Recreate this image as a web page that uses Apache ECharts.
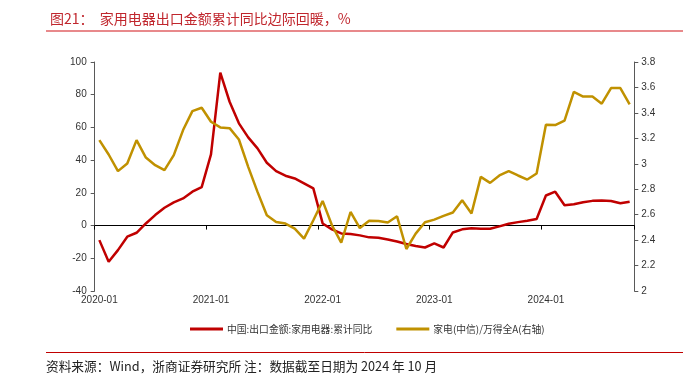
<!DOCTYPE html>
<html>
<head>
<meta charset="utf-8">
<script src="https://cdn.jsdelivr.net/npm/echarts@6/dist/echarts.min.js"></script>
<style>
  html, body { margin: 0; padding: 0; background: #fff; }
  #chart { width: 687px; height: 376px; }
</style>
</head>
<body>
<div id="chart"></div>
<script>
// months 2020-01 .. 2024-10
const months = [
  '2020-01','2020-02','2020-03','2020-04','2020-05','2020-06','2020-07','2020-08','2020-09','2020-10','2020-11','2020-12',
  '2021-01','2021-02','2021-03','2021-04','2021-05','2021-06','2021-07','2021-08','2021-09','2021-10','2021-11','2021-12',
  '2022-01','2022-02','2022-03','2022-04','2022-05','2022-06','2022-07','2022-08','2022-09','2022-10','2022-11','2022-12',
  '2023-01','2023-02','2023-03','2023-04','2023-05','2023-06','2023-07','2023-08','2023-09','2023-10','2023-11','2023-12',
  '2024-01','2024-02','2024-03','2024-04','2024-05','2024-06','2024-07','2024-08','2024-09','2024-10'
]

// 中国:出口金额:家用电器:累计同比 (%), left axis
const exportYoY = [
  -8.9, -22.1, -15.0, -6.8, -4.4, 1.3, 6.4, 10.9, 14.2, 16.6, 20.7, 23.5,
  43.5, 93.5, 75.7, 62.5, 53.9, 47.2, 38.4, 33.3, 30.5, 28.8, 25.8, 22.7,
  1.3, -2.3, -4.8, -5.2, -6.0, -7.2, -7.4, -8.5, -9.7, -11.3, -12.5, -13.4,
  -10.9, -13.4, -4.2, -2.3, -1.7, -1.9, -1.9, -0.5, 1.1, 2.1, 2.9, 4.0,
  18.4, 20.7, 12.4, 13.0, 14.3, 15.1, 15.4, 15.0, 13.6, 14.6
]

// 家电(中信)/万得全A (right axis)
const relRatio = [
  3.186, 3.073, 2.942, 3.002, 3.186, 3.049, 2.989, 2.950, 3.068, 3.265, 3.414, 3.440,
  3.330, 3.286, 3.280, 3.191, 2.976, 2.779, 2.595, 2.543, 2.530, 2.490, 2.412, 2.556,
  2.708, 2.517, 2.380, 2.621, 2.495, 2.553, 2.550, 2.538, 2.587, 2.330, 2.451, 2.540,
  2.561, 2.590, 2.617, 2.713, 2.609, 2.897, 2.850, 2.908, 2.942, 2.908, 2.876, 2.924,
  3.307, 3.304, 3.340, 3.565, 3.528, 3.528, 3.472, 3.595, 3.595, 3.467
]

const leftTicks = { min: -40, max: 100, step: 20 }
const rightTicks = { min: 2, max: 3.8, step: 0.2 }

const red = '#C00000'
const gold = '#C09100'
const axisGray = '#595959'
const labelFont = { fontFamily: 'Liberation Sans, Arial, sans-serif', fontSize: 10, color: '#333' }
const cjkFont = '"Noto Sans CJK SC", sans-serif'

const chart = echarts.init(document.getElementById('chart'))

chart.setOption({
  animation: false,
  backgroundColor: '#fff',
  title: {
    text: '图21：  家用电器出口金额累计同比边际回暖，%',
    left: 45,
    top: 7,
    textStyle: { fontFamily: cjkFont, fontSize: 14, fontWeight: 'normal', color: '#C0262D' }
  },
  graphic: [
    { type: 'line', shape: { x1: 46, y1: 31, x2: 683, y2: 31 }, style: { stroke: '#E8898B', lineWidth: 2 } },
    { type: 'line', shape: { x1: 46, y1: 352.5, x2: 683, y2: 352.5 }, style: { stroke: '#C00000', lineWidth: 1 } },
    {
      type: 'text', left: 46, top: 360,
      style: {
        text: '资料来源：Wind，浙商证券研究所 注：数据截至日期为 2024 年 10 月',
        font: '12.7px ' + cjkFont, fill: '#222'
      }
    }
  ],
  legend: {
    left: 185,
    top: 319,
    icon: 'rect',
    itemWidth: 33,
    itemHeight: 3,
    itemGap: 24,
    textStyle: { fontFamily: cjkFont, fontSize: 9.8, color: '#333', padding: [0, 0, 0, -1] },
    data: ['中国:出口金额:家用电器:累计同比', '家电(中信)/万得全A(右轴)']
  },
  grid: { left: 94.7, right: 52.7, top: 62, bottom: 85 },
  xAxis: [
    {
      type: 'category',
      data: months,
      position: 'bottom',
      boundaryGap: true,
      axisLine: { onZero: true, lineStyle: { color: '#000', width: 1 } },
      axisTick: { show: true, interval: 11, length: 4, lineStyle: { color: '#000' } },
      axisLabel: { show: false },
      splitLine: { show: false }
    },
    {
      type: 'category',
      data: months,
      position: 'bottom',
      boundaryGap: true,
      axisLine: { show: false, onZero: false },
      axisTick: { show: false },
      axisLabel: Object.assign({ interval: 11, margin: 4 }, labelFont),
      splitLine: { show: false }
    }
  ],
  yAxis: [
    {
      type: 'value',
      position: 'left',
      min: leftTicks.min,
      max: leftTicks.max,
      interval: leftTicks.step,
      axisLine: { show: true, lineStyle: { color: axisGray } },
      axisTick: { show: true, length: 4, lineStyle: { color: axisGray } },
      axisLabel: Object.assign({ margin: 8 }, labelFont),
      splitLine: { show: false }
    },
    {
      type: 'value',
      position: 'right',
      min: rightTicks.min,
      max: rightTicks.max,
      interval: rightTicks.step,
      axisLine: { show: true, lineStyle: { color: axisGray } },
      axisTick: { show: true, length: 4, lineStyle: { color: axisGray } },
      axisLabel: Object.assign({ margin: 7, formatter: (v) => String(+v.toFixed(1)) }, labelFont),
      splitLine: { show: false }
    }
  ],
  series: [
    {
      name: '中国:出口金额:家用电器:累计同比',
      type: 'line',
      yAxisIndex: 0,
      data: exportYoY,
      showSymbol: false,
      lineStyle: { color: red, width: 2.5 },
      itemStyle: { color: red }
    },
    {
      name: '家电(中信)/万得全A(右轴)',
      type: 'line',
      yAxisIndex: 1,
      data: relRatio,
      showSymbol: false,
      lineStyle: { color: gold, width: 2.5 },
      itemStyle: { color: gold }
    }
  ]
})
</script>
</body>
</html>
